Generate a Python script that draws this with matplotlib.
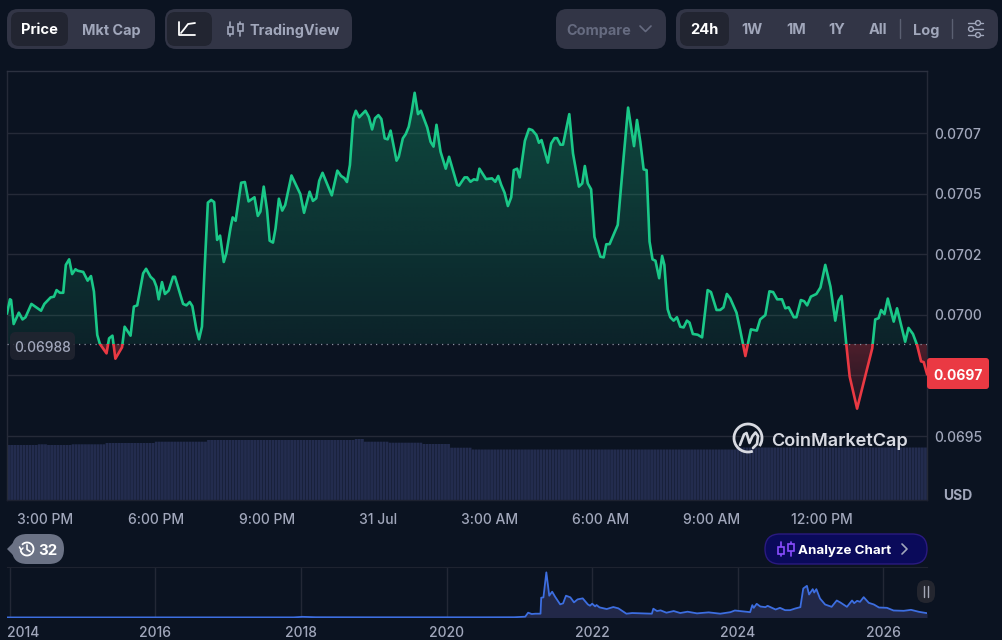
import numpy as np
import matplotlib
matplotlib.use("Agg")
import matplotlib.pyplot as plt
from matplotlib.patches import FancyBboxPatch, Rectangle, Polygon, Arc, Circle
from matplotlib.transforms import ScaledTranslation

# hours counted from midnight on 30 Jul, price in millionths of a dollar
hours = [
    13.96, 14.04, 14.07, 14.14, 14.28, 14.38, 14.46, 14.62, 14.88, 14.97, 15.14, 15.23, 15.30, 15.39, 15.48, 15.55,
    15.64, 15.72, 15.81, 15.87, 16.02, 16.14, 16.23, 16.31, 16.40, 16.47, 16.65, 16.72, 16.81, 16.89, 17.07, 17.14,
    17.30, 17.39, 17.48, 17.64, 17.72, 17.84, 17.93, 18.00, 18.06, 18.15, 18.23, 18.33, 18.45, 18.50, 18.72, 18.81,
    18.90, 18.97, 19.08, 19.15, 19.23, 19.30, 19.39, 19.48, 19.56, 19.64, 19.72, 19.82, 19.89, 20.00, 20.06, 20.14,
    20.29, 20.39, 20.49, 20.65, 20.74, 20.81, 20.90, 20.99, 21.06, 21.15, 21.22, 21.31, 21.40, 21.48, 21.65, 21.89,
    21.99, 22.14, 22.23, 22.32, 22.40, 22.49, 22.74,
    22.89, 22.99, 23.08, 23.15, 23.23, 23.32, 23.39, 23.48, 23.65, 23.74, 23.83, 23.91, 24.00, 24.08, 24.17, 24.25,
    24.33, 24.49, 24.55, 24.66, 24.74, 24.82, 24.90, 24.98, 25.07, 25.15, 25.32, 25.41, 25.49, 25.57, 25.68, 25.82,
    25.91, 26.13, 26.18, 26.33, 26.40, 26.49, 26.58, 26.67, 26.73, 26.91, 27.07, 27.16, 27.24, 27.32, 27.41, 27.50,
    27.59, 27.66, 27.75, 27.82, 27.96, 28.07, 28.16, 28.27, 28.34, 28.41, 28.58, 28.67, 28.76, 28.83, 28.92, 28.99,
    29.16, 29.26, 29.42, 29.51, 29.58, 29.66, 29.75, 29.84, 30.00, 30.09, 30.16, 30.25, 30.47, 30.52, 30.63, 30.75,
    30.91, 30.99, 31.08, 31.17, 31.25, 31.33, 31.41, 31.49, 31.59, 31.67, 31.73, 31.82, 31.89,
    31.98, 32.07, 32.16, 32.25, 32.34, 32.41, 32.50, 32.63, 32.75, 32.90, 32.99, 33.14, 33.24, 33.33, 33.42, 33.51,
    33.68, 33.78, 33.92, 34.07, 34.23, 34.32, 34.46, 34.57, 34.67, 34.78, 34.91, 35.00, 35.09, 35.23, 35.30, 35.42,
    35.51, 35.59, 35.69, 35.84, 35.95, 36.08, 36.22, 36.35, 36.44, 36.52, 36.65, 36.74, 36.94, 37.35, 37.43, 37.52,
    37.59, 37.68, 37.77, 37.93, 38.02, 38.24, 38.33, 38.45, 38.56, 38.67, 38.74, 38.83,
]
price_micro = [
    70006, 70064, 70061, 69962, 70009, 69981, 69990, 70045, 70017, 70045, 70072, 70075, 70102, 70091, 70091, 70206,
    70229, 70168, 70188, 70182, 70177, 70141, 70160, 70096, 69917, 69880, 69841, 69903, 69914, 69819, 69866, 69951,
    69914, 70034, 70039, 70171, 70190, 70157, 70144, 70116, 70064, 70135, 70086, 70100, 70157, 70157, 70045, 70039,
    70053, 70036, 69940, 69899, 69951, 70185, 70463, 70474, 70465, 70309, 70327, 70218, 70254, 70357, 70402, 70388,
    70545, 70548, 70468, 70485, 70408, 70426, 70529, 70432, 70306, 70298, 70357, 70479, 70430, 70453, 70575, 70498,
    70421, 70508, 70470, 70481, 70553, 70586, 70493,
    70595, 70573, 70564, 70548, 70618, 70811, 70842, 70815, 70842, 70817, 70765, 70811, 70824, 70808, 70728, 70724,
    70760, 70636, 70652, 70728, 70746, 70776, 70838, 70916, 70828, 70842, 70773, 70714, 70694, 70784, 70673, 70603,
    70652, 70536, 70533, 70567, 70567, 70549, 70559, 70556, 70603, 70560, 70563, 70549, 70573, 70536, 70504, 70449,
    70485, 70597, 70603, 70567, 70718, 70767, 70762, 70742, 70710, 70721, 70628, 70707, 70729, 70729, 70702, 70702,
    70828, 70666, 70529, 70542, 70614, 70542, 70518, 70322, 70240, 70237, 70291, 70292, 70371, 70460, 70652, 70855,
    70696, 70804, 70714, 70600, 70597, 70302, 70229, 70223, 70151, 70243, 70206, 70023, 69990,
    69976, 69990, 69951, 69948, 69976, 69968, 69921, 69918, 69907, 70102, 70094, 70020, 70020, 70031, 70086, 70068,
    70009, 69937, 69830, 69940, 69935, 69981, 69999, 70097, 70094, 70064, 70064, 70027, 70031, 69990, 69990, 70061,
    70056, 70039, 70075, 70086, 70113, 70206, 70116, 69976, 70058, 70078, 69876, 69745, 69613, 69862, 69981, 69986,
    70020, 70003, 70067, 69972, 70027, 69889, 69946, 69921, 69876, 69808, 69805, 69756,
]
base_price = 0.06988
last_label = "0.0697"

price_ticks = [0.0695, 0.06975, 0.0700, 0.07025, 0.0705, 0.07075]
price_labels = ["0.0695", "", "0.0700", "0.0702", "0.0705", "0.0707"]
time_ticks = [15, 18, 21, 24, 27, 30, 33, 36]
time_labels = ["3:00 PM", "6:00 PM", "9:00 PM", "31 Jul", "3:00 AM", "6:00 AM", "9:00 AM", "12:00 PM"]

# 5 minute volume bars, as levels and how many bars stay on each level
vol_levels = [550, 557, 550, 557, 570, 583, 600, 610, 583, 573, 560, 523, 505, 525]
vol_counts = [10, 3, 8, 11, 16, 17, 48, 3, 8, 11, 9, 7, 86, 62]

# all-time overview
mini_years = [
    2013.96, 2017.90, 2018.02, 2018.20, 2019.00, 2019.50, 2020.00, 2020.50, 2020.93, 2021.08, 2021.12, 2021.17,
    2021.22, 2021.29, 2021.30, 2021.33, 2021.37, 2021.41, 2021.45, 2021.49, 2021.56, 2021.60, 2021.64, 2021.70,
    2021.75, 2021.80, 2021.87, 2021.94, 2021.97, 2022.00, 2022.04, 2022.06, 2022.10, 2022.20, 2022.29, 2022.36,
    2022.47, 2022.55, 2022.82, 2022.84, 2022.89, 2022.94, 2023.02, 2023.12, 2023.21, 2023.31, 2023.44, 2023.60,
    2023.76, 2023.90, 2023.96, 2024.17, 2024.20, 2024.22, 2024.26, 2024.31, 2024.38, 2024.41, 2024.52, 2024.58,
    2024.65, 2024.72, 2024.79, 2024.86, 2024.90, 2024.95, 2024.98, 2025.03, 2025.05, 2025.08, 2025.13, 2025.20,
    2025.29, 2025.36, 2025.41, 2025.50, 2025.57, 2025.60, 2025.64, 2025.68, 2025.73, 2025.80, 2025.87, 2025.94,
    2026.05, 2026.14, 2026.28, 2026.38, 2026.49, 2026.60,
]
mini_price = [
    0.001, 0.002, 0.010, 0.004, 0.003, 0.003, 0.003, 0.003, 0.004, 0.012, 0.072, 0.052,
    0.057, 0.057, 0.297, 0.302, 0.677, 0.327, 0.387, 0.312, 0.197, 0.212, 0.327, 0.302,
    0.227, 0.272, 0.287, 0.197, 0.177, 0.207, 0.167, 0.187, 0.152, 0.127, 0.157, 0.137,
    0.057, 0.067, 0.057, 0.132, 0.097, 0.107, 0.072, 0.097, 0.067, 0.087, 0.062, 0.077,
    0.057, 0.080, 0.105, 0.080, 0.185, 0.145, 0.205, 0.165, 0.155, 0.175, 0.120, 0.145,
    0.110, 0.110, 0.135, 0.155, 0.435, 0.475, 0.345, 0.425, 0.375, 0.425, 0.285, 0.195,
    0.160, 0.255, 0.225, 0.160, 0.255, 0.215, 0.250, 0.235, 0.305, 0.220, 0.195, 0.150,
    0.145, 0.105, 0.100, 0.115, 0.085, 0.065,
]
mini_ticks = [2014, 2016, 2018, 2020, 2022, 2024, 2026]

W, H = 1002, 640
BG = "#0b1321"
BTN = "#323546"
BTN_ON = "#222531"
GREY = "#a1a7bb"
GRID = "#252a38"
GREEN = "#1ac888"
RED = "#ea3943"

plt.rcParams["font.family"] = ["Inter", "DejaVu Sans"]


def px_rect(x0, y0, x1, y1):
    return [x0 / W, 1 - y1 / H, (x1 - x0) / W, (y1 - y0) / H]


fig = plt.figure(figsize=(W / 100, H / 100), dpi=100, facecolor=BG)

t = np.array(hours)
p = np.array(price_micro) / 1e6
t0, t1 = t[0], t[-1]
p_lo, p_hi = 0.069236, 0.071006

# volume sits under the price axes
axv = fig.add_axes(px_rect(7, 436, 927, 500), zorder=1)
axv.set_facecolor("none")
vol = np.repeat(vol_levels, vol_counts)
step = (t1 - t0) / len(vol)
axv.bar(t0 + step * (np.arange(len(vol)) + 0.5), vol, width=step * 0.9, color="#232c4e", linewidth=0, snap=False)
axv.set_xlim(t0, t1)
axv.set_ylim(0, 640)
axv.axis("off")

ax = fig.add_axes(px_rect(7, 71, 927, 500), zorder=2)
ax.set_facecolor("none")
ax.set_xlim(t0, t1)
ax.set_ylim(p_lo, p_hi)
ax.grid(False)
for v in price_ticks:
    ax.axhline(v, color=GRID, lw=1, zorder=1)

# gradient areas between the line and the open price
area = Polygon(np.r_[np.c_[t, p], [[t1, base_price], [t0, base_price]]], closed=True, transform=ax.transData)
n = 128
g_img = np.zeros((n, 2, 4))
g_img[..., :3] = matplotlib.colors.to_rgb("#16c784")
g_img[..., 3] = np.linspace(0.30, 0.09, n)[:, None]
img = ax.imshow(g_img, extent=(t0, t1, base_price, p.max()), aspect="auto", origin="upper", zorder=2,
                interpolation="bilinear")
img.set_clip_path(area)
r_img = np.zeros((n, 2, 4))
r_img[..., :3] = matplotlib.colors.to_rgb(RED)
r_img[..., 3] = np.linspace(0.30, 0.08, n)[:, None]
img2 = ax.imshow(r_img, extent=(t0, t1, p.min(), base_price), aspect="auto", origin="upper", zorder=2,
                 interpolation="bilinear")
img2.set_clip_path(area)
ax.set_xlim(t0, t1)
ax.set_ylim(p_lo, p_hi)

ax.axhline(base_price, color="#8b90a0", lw=0.9, linestyle=(0, (1, 3.4)), zorder=3)

line_up, = ax.plot(t, p, color=GREEN, lw=1.9, zorder=4, solid_joinstyle="round")
line_up.set_clip_path(Rectangle((t0, base_price), t1 - t0, p_hi - base_price, transform=ax.transData))
line_dn, = ax.plot(t, p, color=RED, lw=1.9, zorder=4, solid_joinstyle="round")
line_dn.set_clip_path(Rectangle((t0, p_lo), t1 - t0, base_price - p_lo, transform=ax.transData))

ax.yaxis.tick_right()
ax.set_yticks(price_ticks)
ax.set_yticklabels(price_labels, fontsize=10, color=GREY, fontweight="medium")
ax.set_xticks(time_ticks)
ax.set_xticklabels(time_labels, fontsize=10, color=GREY, fontweight="medium")
ax.tick_params(axis="both", length=0)
ax.tick_params(axis="x", pad=9)
ax.tick_params(axis="y", pad=5.5)
for name, col in (("top", "#2c3140"), ("left", GRID), ("right", GRID), ("bottom", "#1c2130")):
    ax.spines[name].set_color(col)
    ax.spines[name].set_linewidth(1)
for tl in ax.get_yticklabels():
    tl.set_y(tl.get_position()[1])
    tl.set_va("center_baseline")

# overview strip
axm = fig.add_axes(px_rect(7, 567, 927, 618), zorder=2)
axm.set_facecolor("none")
axm.set_xlim(2013.96, 2026.60)
axm.set_ylim(-0.0075, 0.7575)
for yr in mini_ticks:
    axm.axvline(yr, color="#232836", lw=1, zorder=1)
axm.fill_between(mini_years, mini_price, 0, color="#222848", lw=0, zorder=2)
axm.plot(mini_years, mini_price, color="#3d6ee0", lw=1.3, zorder=3)
axm.set_yticks([])
axm.set_xticks(mini_ticks)
axm.set_xticklabels([str(y) for y in mini_ticks], fontsize=10, color=GREY, fontweight="medium")
axm.tick_params(axis="x", length=0, pad=6)
for name in ("left", "right", "bottom"):
    axm.spines[name].set_visible(False)
axm.spines["top"].set_color("#1e2330")
lab = axm.get_xticklabels()[0]
lab.set_transform(lab.get_transform() + ScaledTranslation(0.13, 0, fig.dpi_scale_trans))

# page furniture, drawn in pixel coordinates over the axes
ui = fig.add_axes([0, 0, 1, 1], zorder=5)
ui.set_xlim(0, W)
ui.set_ylim(H, 0)
ui.axis("off")
ui.patch.set_alpha(0)


def box(x0, y0, x1, y1, color, r=8, ec="none", lw=0, z=2, alpha=None):
    ui.add_patch(FancyBboxPatch((x0, y0), x1 - x0, y1 - y0, boxstyle=f"round,pad=0,rounding_size={r}",
                                fc=color, ec=ec, lw=lw, zorder=z, alpha=alpha))


def label(x, y, s, color=GREY, size=10.8, weight="bold", ha="center"):
    ui.text(x, y, s, color=color, fontsize=size, fontweight=weight, ha=ha, va="center_baseline", zorder=4)


def stroke(xs, ys, color=GREY, lw=1.3, z=4):
    ui.plot(xs, ys, color=color, lw=lw, zorder=z, solid_capstyle="round", solid_joinstyle="round")


def candles(x, y, color=GREY, fill=BTN):
    for dx, off in ((0, 1.5), (10, -1.5)):
        stroke([x + dx, x + dx], [y - 7, y + 7], color, 1.2)
        ui.add_patch(Rectangle((x + dx - 2.6, y - 3.4 + off), 5.2, 6.8, fc=fill, ec=color, lw=1.2, zorder=5))


# top buttons
box(7, 9, 155, 49, BTN, 11)
box(11, 12, 68, 46, BTN_ON, 8, z=3)
label(39.5, 29, "Price", "white", 10.6)
label(111, 29, "Mkt Cap", GREY, 10.4)

box(165, 9, 352, 49, BTN, 11)
box(167, 12, 212, 46, BTN_ON, 8, z=3)
stroke([179, 179, 195], [22, 35, 35], "white", 1.3)
stroke([181, 185, 188, 195], [33, 28, 24, 23], "white", 1.3)
candles(230.5, 29)
label(295, 29, "TradingView", GREY, 10.4)

box(556, 9, 666, 49, BTN, 11)
label(598.5, 29, "Compare", "#666b80", 10.4)
stroke([640, 645.5, 651], [26, 31.5, 26], "#666b80", 1.2)

box(676, 9, 998, 49, BTN, 11)
box(680, 12, 729, 46, BTN_ON, 8, z=3)
label(704, 29, "24h", "white", 10.6)
for xx, s in ((752, "1W"), (796, "1M"), (837, "1Y"), (878, "All"), (926, "Log")):
    label(xx, 29, s, GREY, 10.4)
stroke([900, 900], [19, 38], "#5b6072", 1)
stroke([952, 952], [19, 38], "#5b6072", 1)
for yy, cx in ((23, 978), (29, 971), (35, 978)):
    stroke([968, 983], [yy, yy], GREY, 1)
    ui.add_patch(Circle((cx, yy), 2.4, fc=BTN, ec=GREY, lw=1, zorder=5))

# open price and last price tags
box(10, 332, 75, 360, BTN_ON, 6, alpha=0.85)
label(42.5, 346.5, "0.06988", GREY, 10, "medium")
box(927, 358, 989, 389, RED, 3)
label(958, 374, last_label, "white", 10, "bold")
label(958, 495, "USD", GREY, 10, "bold")

# watermark
wm = "#d8dae2"
ui.add_patch(Arc((748, 438), 28, 28, theta1=70, theta2=395, ec=wm, lw=2.0, zorder=4))
stroke([740, 744, 746.5, 749.5, 752.5, 755.5, 758, 757, 753], [445, 434.5, 433, 443, 436, 432.5, 436, 444, 448], wm, 1.9)
label(840, 439.5, "CoinMarketCap", wm, 13.05, "semibold")

# history badge
ui.add_patch(Polygon([[7, 549], [15, 541], [15, 557]], closed=True, fc="#6b7285", ec="none", zorder=2))
box(12, 534, 64, 564, "#6b7285", 15)
ui.add_patch(Arc((27, 549), 13, 13, theta1=-140, theta2=170, ec="white", lw=1.3, zorder=4))
stroke([27, 27, 30], [545, 549.5, 551.5], "white", 1.2)
stroke([19.5, 21, 23], [547, 550, 548], "white", 1.1)
label(48, 549.5, "32", "white", 10.8, "bold")

# analyse button
box(765, 534, 927, 564, "#0a0a5a", 15, ec="#2a1a80", lw=1)
candles(781, 549, "#8a4dff", "#0a0a5a")
label(844.5, 549.5, "Analyze Chart", "white", 9.6, "bold")
stroke([902, 907, 902], [544, 549, 554], GREY, 1.2)

# overview drag handle
box(917, 580, 935, 603, "#24262f", 9)
stroke([924.2, 924.2], [586, 597], "#a4a8b6", 1)
stroke([927.8, 927.8], [586, 597], "#a4a8b6", 1)

fig.savefig("out.png", dpi=100, facecolor=BG)
